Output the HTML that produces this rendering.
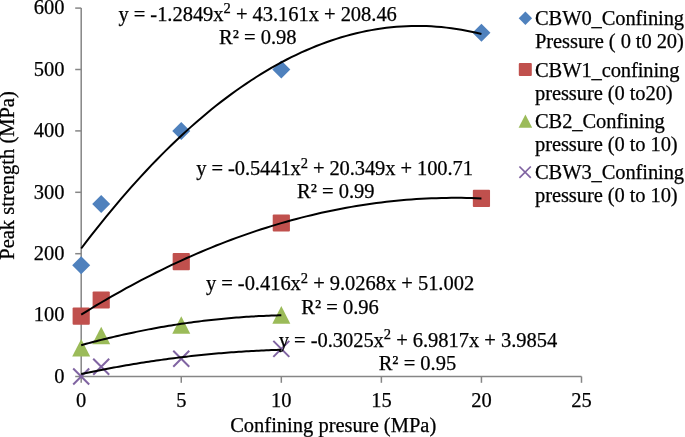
<!DOCTYPE html>
<html><head><meta charset="utf-8"><style>
html,body{margin:0;padding:0;background:#fff;}
body{width:685px;height:437px;overflow:hidden;}
svg{display:block;will-change:transform;}
text{font-family:"Liberation Serif",serif;font-size:20.5px;fill:#000;stroke:#000;stroke-width:0.25px;}
</style></head><body>
<svg width="685" height="437" viewBox="0 0 685 437">
<rect width="685" height="437" fill="#fff"/>

<g stroke="#868686" stroke-width="1.5" fill="none">
<path d="M81.20 8.10V376.50H581.50"/>
<path d="M75.20 376.50H81.20"/>
<path d="M75.20 315.10H81.20"/>
<path d="M75.20 253.70H81.20"/>
<path d="M75.20 192.30H81.20"/>
<path d="M75.20 130.90H81.20"/>
<path d="M75.20 69.50H81.20"/>
<path d="M75.20 8.10H81.20"/>
<path d="M81.20 376.50V382.80"/>
<path d="M181.26 376.50V382.80"/>
<path d="M281.32 376.50V382.80"/>
<path d="M381.38 376.50V382.80"/>
<path d="M481.44 376.50V382.80"/>
<path d="M581.50 376.50V382.80"/>
</g>
<text x="64.5" y="382.80" text-anchor="end">0</text>
<text x="64.5" y="321.40" text-anchor="end">100</text>
<text x="64.5" y="260.00" text-anchor="end">200</text>
<text x="64.5" y="198.60" text-anchor="end">300</text>
<text x="64.5" y="137.20" text-anchor="end">400</text>
<text x="64.5" y="75.80" text-anchor="end">500</text>
<text x="64.5" y="14.40" text-anchor="end">600</text>
<text x="81.20" y="406.8" text-anchor="middle">0</text>
<text x="181.26" y="406.8" text-anchor="middle">5</text>
<text x="281.32" y="406.8" text-anchor="middle">10</text>
<text x="381.38" y="406.8" text-anchor="middle">15</text>
<text x="481.44" y="406.8" text-anchor="middle">20</text>
<text x="581.50" y="406.8" text-anchor="middle">25</text>
<path d="M81.20 256.37L90.20 265.37L81.20 274.37L72.20 265.37Z" fill="#4F81BD"/>
<path d="M101.21 194.97L110.21 203.97L101.21 212.97L92.21 203.97Z" fill="#4F81BD"/>
<path d="M181.26 121.90L190.26 130.90L181.26 139.90L172.26 130.90Z" fill="#4F81BD"/>
<path d="M281.32 60.50L290.32 69.50L281.32 78.50L272.32 69.50Z" fill="#4F81BD"/>
<path d="M481.44 23.66L490.44 32.66L481.44 41.66L472.44 32.66Z" fill="#4F81BD"/>
<rect x="72.60" y="307.54" width="17.20" height="17.20" rx="1" fill="#C0504D"/>
<rect x="92.61" y="291.40" width="17.20" height="17.20" rx="1" fill="#C0504D"/>
<rect x="172.66" y="252.96" width="17.20" height="17.20" rx="1" fill="#C0504D"/>
<rect x="272.72" y="214.40" width="17.20" height="17.20" rx="1" fill="#C0504D"/>
<rect x="472.84" y="189.84" width="17.20" height="17.20" rx="1" fill="#C0504D"/>
<path d="M81.20 338.95L90.20 356.50L72.20 356.50Z" fill="#9BBB59"/>
<path d="M101.21 326.79L110.21 344.34L92.21 344.34Z" fill="#9BBB59"/>
<path d="M181.26 316.17L190.26 333.72L172.26 333.72Z" fill="#9BBB59"/>
<path d="M281.32 306.10L290.32 323.65L272.32 323.65Z" fill="#9BBB59"/>
<path d="M73.20 368.50L89.20 384.50M89.20 368.50L73.20 384.50" stroke="#8064A2" stroke-width="2" fill="none"/>
<path d="M93.21 358.80L109.21 374.80M109.21 358.80L93.21 374.80" stroke="#8064A2" stroke-width="2" fill="none"/>
<path d="M173.26 350.69L189.26 366.69M189.26 350.69L173.26 366.69" stroke="#8064A2" stroke-width="2" fill="none"/>
<path d="M273.32 340.87L289.32 356.87M289.32 340.87L273.32 356.87" stroke="#8064A2" stroke-width="2" fill="none"/>
<g stroke="#000" stroke-width="2" fill="none">
<path d="M81.20,248.51 L86.20,241.93 L91.21,235.45 L96.21,229.07 L101.21,222.79 L106.22,216.61 L111.22,210.53 L116.22,204.55 L121.22,198.66 L126.23,192.87 L131.23,187.18 L136.23,181.59 L141.24,176.10 L146.24,170.71 L151.24,165.42 L156.25,160.22 L161.25,155.13 L166.25,150.13 L171.25,145.23 L176.26,140.43 L181.26,135.72 L186.26,131.12 L191.27,126.62 L196.27,122.21 L201.27,117.90 L206.28,113.69 L211.28,109.58 L216.28,105.57 L221.28,101.66 L226.29,97.84 L231.29,94.13 L236.29,90.51 L241.30,86.99 L246.30,83.57 L251.30,80.25 L256.31,77.03 L261.31,73.90 L266.31,70.88 L271.31,67.95 L276.32,65.12 L281.32,62.39 L286.32,59.76 L291.33,57.23 L296.33,54.79 L301.33,52.46 L306.33,50.22 L311.34,48.08 L316.34,46.04 L321.34,44.10 L326.35,42.26 L331.35,40.51 L336.35,38.87 L341.36,37.32 L346.36,35.88 L351.36,34.53 L356.37,33.28 L361.37,32.12 L366.37,31.07 L371.37,30.12 L376.38,29.26 L381.38,28.50 L386.38,27.84 L391.39,27.28 L396.39,26.82 L401.39,26.46 L406.39,26.19 L411.40,26.03 L416.40,25.96 L421.40,25.99 L426.41,26.12 L431.41,26.35 L436.41,26.68 L441.42,27.10 L446.42,27.63 L451.42,28.25 L456.43,28.97 L461.43,29.79 L466.43,30.71 L471.43,31.73 L476.44,32.85 L481.44,34.06"/>
<path d="M81.20,314.66 L86.20,311.56 L91.21,308.50 L96.21,305.48 L101.21,302.50 L106.22,299.57 L111.22,296.67 L116.22,293.82 L121.22,291.01 L126.23,288.24 L131.23,285.52 L136.23,282.83 L141.24,280.19 L146.24,277.59 L151.24,275.03 L156.25,272.51 L161.25,270.03 L166.25,267.60 L171.25,265.20 L176.26,262.85 L181.26,260.54 L186.26,258.28 L191.27,256.05 L196.27,253.87 L201.27,251.73 L206.28,249.62 L211.28,247.57 L216.28,245.55 L221.28,243.57 L226.29,241.64 L231.29,239.75 L236.29,237.90 L241.30,236.09 L246.30,234.32 L251.30,232.60 L256.31,230.92 L261.31,229.28 L266.31,227.68 L271.31,226.12 L276.32,224.60 L281.32,223.13 L286.32,221.70 L291.33,220.31 L296.33,218.96 L301.33,217.65 L306.33,216.39 L311.34,215.16 L316.34,213.98 L321.34,212.84 L326.35,211.74 L331.35,210.69 L336.35,209.67 L341.36,208.70 L346.36,207.77 L351.36,206.88 L356.37,206.03 L361.37,205.22 L366.37,204.46 L371.37,203.74 L376.38,203.06 L381.38,202.42 L386.38,201.82 L391.39,201.26 L396.39,200.75 L401.39,200.28 L406.39,199.85 L411.40,199.46 L416.40,199.11 L421.40,198.81 L426.41,198.55 L431.41,198.33 L436.41,198.15 L441.42,198.01 L446.42,197.91 L451.42,197.86 L456.43,197.85 L461.43,197.87 L466.43,197.95 L471.43,198.06 L476.44,198.21 L481.44,198.41"/>
<path d="M81.20,345.18 L83.70,344.50 L86.20,343.82 L88.70,343.14 L91.21,342.48 L93.71,341.82 L96.21,341.17 L98.71,340.53 L101.21,339.90 L103.71,339.27 L106.22,338.66 L108.72,338.05 L111.22,337.45 L113.72,336.85 L116.22,336.27 L118.72,335.69 L121.22,335.12 L123.73,334.56 L126.23,334.01 L128.73,333.46 L131.23,332.93 L133.73,332.40 L136.23,331.87 L138.73,331.36 L141.24,330.86 L143.74,330.36 L146.24,329.87 L148.74,329.39 L151.24,328.92 L153.74,328.45 L156.25,327.99 L158.75,327.54 L161.25,327.10 L163.75,326.67 L166.25,326.24 L168.75,325.83 L171.25,325.42 L173.76,325.01 L176.26,324.62 L178.76,324.24 L181.26,323.86 L183.76,323.49 L186.26,323.13 L188.76,322.77 L191.27,322.43 L193.77,322.09 L196.27,321.76 L198.77,321.44 L201.27,321.13 L203.77,320.82 L206.28,320.52 L208.78,320.23 L211.28,319.95 L213.78,319.68 L216.28,319.41 L218.78,319.15 L221.28,318.90 L223.79,318.66 L226.29,318.43 L228.79,318.20 L231.29,317.98 L233.79,317.77 L236.29,317.57 L238.79,317.38 L241.30,317.19 L243.80,317.01 L246.30,316.84 L248.80,316.68 L251.30,316.53 L253.80,316.38 L256.31,316.24 L258.81,316.11 L261.31,315.99 L263.81,315.88 L266.31,315.77 L268.81,315.67 L271.31,315.58 L273.82,315.50 L276.32,315.43 L278.82,315.36 L281.32,315.30"/>
<path d="M81.20,374.05 L83.70,373.52 L86.20,372.99 L88.70,372.47 L91.21,371.96 L93.71,371.45 L96.21,370.94 L98.71,370.44 L101.21,369.95 L103.71,369.47 L106.22,368.98 L108.72,368.51 L111.22,368.04 L113.72,367.58 L116.22,367.12 L118.72,366.67 L121.22,366.22 L123.73,365.78 L126.23,365.35 L128.73,364.92 L131.23,364.50 L133.73,364.08 L136.23,363.67 L138.73,363.26 L141.24,362.86 L143.74,362.47 L146.24,362.08 L148.74,361.70 L151.24,361.32 L153.74,360.95 L156.25,360.59 L158.75,360.23 L161.25,359.88 L163.75,359.53 L166.25,359.19 L168.75,358.85 L171.25,358.52 L173.76,358.20 L176.26,357.88 L178.76,357.57 L181.26,357.26 L183.76,356.96 L186.26,356.67 L188.76,356.38 L191.27,356.09 L193.77,355.82 L196.27,355.54 L198.77,355.28 L201.27,355.02 L203.77,354.76 L206.28,354.52 L208.78,354.27 L211.28,354.04 L213.78,353.81 L216.28,353.58 L218.78,353.36 L221.28,353.15 L223.79,352.94 L226.29,352.74 L228.79,352.54 L231.29,352.35 L233.79,352.17 L236.29,351.99 L238.79,351.81 L241.30,351.65 L243.80,351.48 L246.30,351.33 L248.80,351.18 L251.30,351.03 L253.80,350.90 L256.31,350.76 L258.81,350.64 L261.31,350.52 L263.81,350.40 L266.31,350.29 L268.81,350.19 L271.31,350.09 L273.82,350.00 L276.32,349.91 L278.82,349.83 L281.32,349.76"/>
</g>
<text x="118.4" y="20.7" letter-spacing="-0.03">y = -1.2849x<tspan dy="-7.5" font-size="14.5">2</tspan><tspan dy="7.5"> + 43.161x + 208.46</tspan></text><text x="219.1" y="43.9">R² = 0.98</text>
<text x="196.3" y="175.0" letter-spacing="-0.09">y = -0.5441x<tspan dy="-7.5" font-size="14.5">2</tspan><tspan dy="7.5"> + 20.349x + 100.71</tspan></text><text x="297.0" y="197.9">R² = 0.99</text>
<text x="205.9" y="290.4" letter-spacing="-0.03">y = -0.416x<tspan dy="-7.5" font-size="14.5">2</tspan><tspan dy="7.5"> + 9.0268x + 51.002</tspan></text><text x="301.3" y="313.8">R² = 0.96</text>
<text x="278.7" y="346.8" letter-spacing="-0.03">y = -0.3025x<tspan dy="-7.5" font-size="14.5">2</tspan><tspan dy="7.5"> + 6.9817x + 3.9854</tspan></text><text x="378.7" y="370.0">R² = 0.95</text>
<text x="333.2" y="432.0" text-anchor="middle">Confining presure (MPa)</text>
<text transform="translate(14.4 175.5) rotate(-90)" text-anchor="middle">Peak strength (MPa)</text>
<text x="535.0" y="25.0" letter-spacing="-0.1">CBW0_Confining</text><text x="535.0" y="48.0" letter-spacing="-0.08">Pressure ( 0 t0 20)</text>
<text x="535.0" y="76.5" letter-spacing="-0.1">CBW1_confining</text><text x="535.0" y="99.5" letter-spacing="-0.08">pressure (0 to20)</text>
<text x="535.0" y="128.0" letter-spacing="-0.1">CB2_Confining</text><text x="535.0" y="151.0" letter-spacing="-0.08">pressure (0 to 10)</text>
<text x="535.0" y="179.2" letter-spacing="-0.1">CBW3_Confining</text><text x="535.0" y="202.2" letter-spacing="-0.08">pressure (0 to 10)</text>
<path d="M525.40 11.60L532.10 18.30L525.40 25.00L518.70 18.30Z" fill="#4F81BD"/>
<rect x="518.80" y="63.00" width="13.00" height="13.00" rx="1" fill="#C0504D"/>
<path d="M525.40 114.40L532.20 127.66L518.60 127.66Z" fill="#9BBB59"/>
<path d="M519.40 166.50L530.80 177.90M530.80 166.50L519.40 177.90" stroke="#8064A2" stroke-width="1.7" fill="none"/>
</svg></body></html>
